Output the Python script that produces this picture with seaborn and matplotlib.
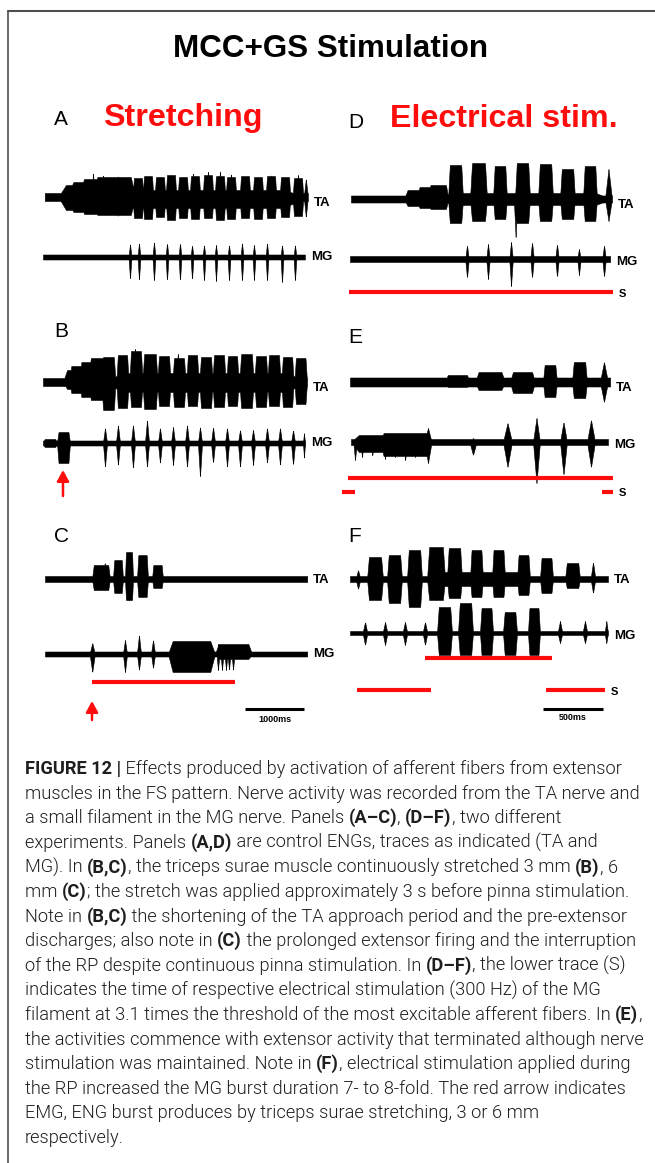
import numpy as np
import pandas as pd
import matplotlib
matplotlib.use("Agg")
import matplotlib.pyplot as plt
import seaborn as sns
from matplotlib.lines import Line2D
from matplotlib import font_manager
from matplotlib.font_manager import FontProperties

# ---------------------------------------------------------------- data
# Each burst: (onset ms, offset ms, upward amplitude, downward amplitude)
# Left column (A-C) uses a 1000 ms scale bar; right column (D-F) a 500 ms one.

# Panel A - control (stretching experiment)
A_TA_SPAN = (30, 4490)
A_TA = [(254, 4490, 7, 11), (260, 1560, 12, 13), (400, 1560, 15, 15), (600, 1560, 18, 17),
        (850, 1560, 20, 18),
        (833, 863, 27, 18), (1000, 1030, 23, 18), (1250, 1280, 22, 20),
        (1520, 1700, 19, 21), (1690, 1870, 21, 22), (1893, 2073, 20, 20), (2080, 2260, 22, 23),
        (2283, 2463, 20, 21), (2486, 2666, 21, 22), (2707, 2887, 22, 21), (2910, 3090, 21, 23),
        (3097, 3277, 20, 22), (3334, 3514, 21, 21), (3554, 3734, 20, 22), (3775, 3955, 21, 21),
        (4012, 4192, 20, 20), (4232, 4412, 19, 19), (4420, 4490, 18, 20),
        (2528, 2558, 25, 18), (2782, 2812, 27, 18), (2985, 3015, 29, 18), (3172, 3202, 24, 18),
        (3409, 3439, 24, 18), (3850, 3880, 23, 18), (4307, 4337, 22, 18)]
A_MG_SPAN = (0, 4440)
A_MG = [(1450, 1500, 13, 22), (1602, 1652, 14, 23), (1856, 1906, 15, 24), (2077, 2127, 14, 24),
        (2297, 2347, 14, 24), (2501, 2551, 12, 23), (2704, 2754, 12, 24), (2907, 2957, 12, 24),
        (3128, 3178, 12, 24), (3348, 3398, 14, 24), (3551, 3601, 12, 23), (3772, 3822, 14, 24),
        (4026, 4076, 12, 26), (4246, 4296, 12, 24)]

# Panel B - stretch 3 mm
B_TA_SPAN = (0, 4475)
B_TA = [(339, 1040, 12, 7), (450, 1040, 16, 11), (620, 1040, 20, 15), (780, 1040, 24, 18),
        (1017, 4475, 9, 10),
        (990, 1230, 25, 28), (1244, 1451, 27, 26), (1465, 1688, 31, 25), (1685, 1942, 28, 27),
        (1939, 2163, 26, 24), (2194, 2417, 24, 25), (2431, 2637, 27, 24), (2651, 2875, 25, 26),
        (2872, 3095, 27, 25), (3109, 3315, 26, 24), (3329, 3570, 28, 26), (3583, 3807, 26, 25),
        (3804, 4027, 27, 24), (4041, 4248, 25, 25), (4261, 4475, 24, 22),
        (1545, 1575, 33, 20), (2270, 2300, 30, 20)]
B_MG_SPAN = (0, 4441)
B_MG = [(0, 237, 4, 4), (237, 458, 11, 20),
        (1016, 1086, 15, 24), (1236, 1306, 18, 22), (1490, 1560, 18, 25), (1728, 1798, 23, 24),
        (1948, 2018, 15, 20), (2169, 2239, 16, 22), (2406, 2476, 18, 24), (2626, 2696, 16, 34),
        (2847, 2917, 16, 20), (3084, 3154, 15, 24), (3304, 3374, 13, 24), (3525, 3595, 13, 22),
        (3762, 3832, 15, 20), (3982, 4052, 15, 22), (4203, 4273, 13, 22), (4406, 4441, 10, 15)]

# Panel C - stretch 6 mm
C_TA_SPAN = (34, 4475)
C_TA = [(831, 1136, 14, 11), (1187, 1356, 19, 14), (1390, 1526, 27, 21),
        (1593, 1780, 24, 18), (1848, 2034, 14, 9), (1030, 1060, 17, 12), (1440, 1470, 29, 23)]
C_MG_SPAN = (34, 4475)
C_MG = [(790, 880, 11, 18), (1355, 1425, 14, 18), (1592, 1662, 19, 16), (1830, 1900, 14, 14),
        (2119, 2915, 13, 18), (2915, 3543, 10, 5),
        (2941, 2991, 10, 16), (3009, 3059, 10, 16), (3077, 3127, 10, 16), (3128, 3178, 10, 16),
        (3196, 3246, 10, 16)]
C_STIM = [(831, 3254)]

# Panel D - control (electrical stimulation experiment)
D_TA_SPAN = (8, 2183)
D_TA = [(450, 820, 9, 7), (550, 820, 12, 9), (650, 820, 14, 10), (808, 2183, 6, 6),
        (817, 942, 34, 24), (1000, 1142, 36, 22), (1192, 1308, 33, 20), (1375, 1500, 36, 24),
        (1567, 1692, 35, 22), (1750, 1875, 30, 20), (1942, 2058, 33, 22), (2125, 2183, 30, 22),
        (1365, 1395, 0, 38)]
D_MG_SPAN = (0, 2167)
D_MG = [(960, 990, 14, 19), (1135, 1165, 15, 20), (1327, 1357, 17, 27), (1502, 1532, 17, 19),
        (1710, 1740, 15, 18), (1893, 1923, 10, 16), (2102, 2132, 14, 18)]
D_STIM = [(-8, 2192)]

# Panel E
E_TA_SPAN = (0, 2167)
E_TA = [(790, 1000, 7, 5), (1042, 1292, 10, 8), (1333, 1542, 10, 11), (1608, 1725, 17, 15),
        (1850, 1975, 20, 16), (2083, 2150, 20, 20)]
E_MG_SPAN = (8, 2150)
E_MG = [(8, 667, 7, 10), (250, 667, 9, 14), (27, 57, 0, 18), (85, 115, 0, 15), (170, 200, 0, 14),
        (277, 307, 0, 17), (360, 390, 0, 16), (445, 475, 0, 18), (527, 557, 0, 15),
        (620, 680, 14, 21),
        (995, 1055, 4, 13), (1275, 1350, 19, 25), (1525, 1583, 24, 41), (1750, 1808, 20, 33),
        (1975, 2042, 22, 25)]
E_STIM = [(-17, 2192)]
E_S = [(-67, 42), (2100, 2192)]

# Panel F
F_TA_SPAN = (0, 2150)
F_TA = [(47, 87, 9, 10), (620, 1540, 7, 7),
        (142, 275, 22, 21), (308, 433, 24, 24), (475, 600, 29, 28), (642, 792, 32, 21),
        (808, 933, 31, 19), (1000, 1108, 29, 18), (1183, 1292, 29, 18), (1392, 1500, 24, 16),
        (1583, 1692, 21, 14), (1792, 1917, 16, 9), (2005, 2045, 17, 14)]
F_MG_SPAN = (0, 2150)
F_MG = [(105, 145, 11, 12), (272, 312, 11, 12), (438, 478, 11, 12), (605, 645, 11, 12),
        (725, 850, 26, 22), (900, 1025, 30, 22), (1083, 1192, 25, 22), (1275, 1392, 21, 22),
        (1483, 1583, 25, 22),
        (1730, 1770, 12, 10), (1938, 1978, 12, 10), (2122, 2150, 12, 10)]
F_STIM = [(625, 1683)]
F_S = [(58, 675), (1633, 2125)]

SCALE_LEFT = (3424, 4424)
SCALE_RIGHT = (1608, 2108)
ARROWS = [339, 831]

CAPTION = [
    [("FIGURE 12 |", True), (" Effects produced by activation of afferent fibers from extensor", False)],
    [("muscles in the FS pattern. Nerve activity was recorded from the TA nerve and", False)],
    [("a small filament in the MG nerve. Panels ", False), ("(A\u2013C)", True), (", ", False),
     ("(D\u2013F)", True), (", two different", False)],
    [("experiments. Panels ", False), ("(A,D)", True), (" are control ENGs, traces as indicated (TA and", False)],
    [("MG). In ", False), ("(B,C)", True), (", the triceps surae muscle continuously stretched 3 mm ", False),
     ("(B)", True), (", 6", False)],
    [("mm ", False), ("(C)", True), ("; the stretch was applied approximately 3 s before pinna stimulation.", False)],
    [("Note in ", False), ("(B,C)", True), (" the shortening of the TA approach period and the pre-extensor", False)],
    [("discharges; also note in ", False), ("(C)", True), (" the prolonged extensor firing and the interruption", False)],
    [("of the RP despite continuous pinna stimulation. In ", False), ("(D\u2013F)", True),
     (", the lower trace (S)", False)],
    [("indicates the time of respective electrical stimulation (300 Hz) of the MG", False)],
    [("filament at 3.1 times the threshold of the most excitable afferent fibers. In ", False), ("(E)", True),
     (",", False)],
    [("the activities commence with extensor activity that terminated although nerve", False)],
    [("stimulation was maintained. Note in ", False), ("(F)", True),
     (", electrical stimulation applied during", False)],
    [("the RP increased the MG burst duration 7- to 8-fold. The red arrow indicates", False)],
    [("EMG, ENG burst produces by triceps surae stretching, 3 or 6 mm", False)],
    [("respectively.", False)],
]

# ---------------------------------------------------------------- style
sns.set_theme(style="white")
plt.rcParams["font.family"] = ["Liberation Sans", "DejaVu Sans"]
plt.rcParams["text.color"] = "black"
RED = "#ff0d0d"
W, H = 655, 1163
fig = plt.figure(figsize=(W / 100, H / 100), dpi=100)
fig.patch.set_facecolor("white")


def fx(px):
    return px / W


def fy(py):
    return 1 - py / H


# frame
fig.add_artist(Line2D([fx(8), 1.0], [fy(11), fy(11)], color="#505050", lw=1.5, transform=fig.transFigure))
fig.add_artist(Line2D([fx(8), fx(8)], [fy(11), 0.0], color="#505050", lw=1.2, transform=fig.transFigure))

# headings
fig.text(fx(331), fy(57), "MCC+GS Stimulation", ha="center", va="baseline", fontsize=22.6, weight="bold")
fig.text(fx(103), fy(126), "Stretching", ha="left", va="baseline", fontsize=23.2, weight="bold", color=RED)
fig.text(fx(390), fy(127), "Electrical stim.", ha="left", va="baseline", fontsize=23.2, weight="bold",
         color=RED)
for letter, x, y in [("A", 54, 125), ("B", 54, 337), ("C", 54, 542),
                     ("D", 348, 128), ("E", 348, 343), ("F", 348, 542)]:
    fig.text(fx(x), fy(y), letter, ha="left", va="baseline", fontsize=15)

# column axes (y in layout units that run downwards)
axL = fig.add_axes([fx(30), fy(740), 310 / W, 600 / H])
axR = fig.add_axes([fx(335), fy(740), 315 / W, 600 / H])
axL.set_xlim(-220, 5034)
axR.set_xlim(-125, 2500)


def envelope(t, bursts, base):
    up = np.full(t.shape, float(base))
    dn = up.copy()
    for on, off, a_up, a_dn in bursts:
        w = off - on
        if w <= 90:
            s = np.clip(1 - np.abs(t - (on + off) / 2) / (w / 2), 0, 1)
        else:
            e = 0.1 * w if w > 600 else min(max(0.12 * w, 12), 30)
            s = np.clip(np.minimum(t - on, off - t) / e, 0, 1)
        up = np.maximum(up, a_up * s)
        dn = np.maximum(dn, a_dn * s)
    return up, dn


def draw_trace(ax, span, bursts, y0, base, label, dy, step):
    t = np.arange(span[0], span[1] + step, step)
    up, dn = envelope(t, bursts, base)
    ax.fill_between(t, y0 - up, y0 + dn, color="black", lw=0.4, edgecolor="black")
    ax.annotate(label, xy=(span[1], y0 + dy), xytext=(4.5, 0), textcoords="offset points",
                ha="left", va="center", fontsize=9.5, weight="bold")


traces = [
    (axL, A_TA_SPAN, A_TA, 197, 4, "TA", 6, 4), (axL, A_MG_SPAN, A_MG, 257, 2.5, "MG", 0, 4),
    (axL, B_TA_SPAN, B_TA, 382, 4, "TA", 6, 4), (axL, B_MG_SPAN, B_MG, 443, 2.5, "MG", 0, 4),
    (axL, C_TA_SPAN, C_TA, 579, 3, "TA", 1, 4), (axL, C_MG_SPAN, C_MG, 654, 2.5, "MG", 0, 4),
    (axR, D_TA_SPAN, D_TA, 199, 3.5, "TA", 6, 2), (axR, D_MG_SPAN, D_MG, 259, 3, "MG", 3, 2),
    (axR, E_TA_SPAN, E_TA, 382, 4.5, "TA", 6, 2), (axR, E_MG_SPAN, E_MG, 442, 3, "MG", 3, 2),
    (axR, F_TA_SPAN, F_TA, 579, 3, "TA", 1, 2), (axR, F_MG_SPAN, F_MG, 633, 2, "MG", 3, 2),
]
for ax, span, bursts, y0, base, label, dy, step in traces:
    draw_trace(ax, span, bursts, y0, base, label, dy, step)


def bar(ax, seg, y, color, lw):
    df = pd.DataFrame({"t": [seg[0], seg[1]], "y": [y, y]})
    sns.lineplot(data=df, x="t", y="y", ax=ax, color=color, lw=lw, solid_capstyle="butt")


for seg in C_STIM:
    bar(axL, seg, 682, RED, 3)
for seg in D_STIM:
    bar(axR, seg, 292, RED, 3)
for seg in E_STIM:
    bar(axR, seg, 478, RED, 3)
for seg in E_S:
    bar(axR, seg, 492, RED, 3)
for seg in F_STIM:
    bar(axR, seg, 658, RED, 3)
for seg in F_S:
    bar(axR, seg, 690, RED, 3)

for y, seg in [(294, D_STIM[0]), (493, E_S[-1]), (692, F_S[-1])]:
    axR.annotate("S", xy=(seg[1], y), xytext=(4, 0), textcoords="offset points",
                 ha="left", va="center", fontsize=8, weight="bold")

# scale bars
bar(axL, SCALE_LEFT, 709, "black", 2.2)
bar(axR, SCALE_RIGHT, 709, "black", 2.2)
axL.text(np.mean(SCALE_LEFT), 719, "1000ms", ha="center", va="center", fontsize=6.5, weight="bold")
axR.text(np.mean(SCALE_RIGHT), 718, "500ms", ha="center", va="center", fontsize=6.5, weight="bold")

# red arrows
for t, (tail, head) in zip(ARROWS, [(496, 470), (720, 701)]):
    axL.annotate("", xy=(t, head), xytext=(t, tail),
                 arrowprops=dict(arrowstyle="-|>,head_length=0.55,head_width=0.3", color=RED,
                                 lw=1.8, shrinkA=0, shrinkB=0))

for ax in (axL, axR):
    ax.set_ylim(740, 140)
    ax.set_xlabel("")
    ax.set_ylabel("")
    ax.axis("off")
    ax.patch.set_alpha(0)

# ---------------------------------------------------------------- caption
def weight_num(w):
    if isinstance(w, str):
        return font_manager.weight_dict.get(w, 400)
    return int(w)


entries = font_manager.fontManager.ttflist
cap_family, cap_weight = "Liberation Sans", "normal"
for fam in ["Roboto", "Open Sans", "Lato", "Inter", "Noto Sans"]:
    ws = [weight_num(f.weight) for f in entries if f.name == fam]
    if 300 in ws:
        cap_family, cap_weight = fam, 300
        break
else:
    if any(f.name == "Roboto" for f in entries):
        cap_family = "Roboto"

renderer = fig.canvas.get_renderer()


def adv(s, prop):
    w1 = renderer.get_text_width_height_descent("|" + s + "|", prop, ismath=False)[0]
    w0 = renderer.get_text_width_height_descent("||", prop, ismath=False)[0]
    return w1 - w0


target = 612.0
size = 12.0
for _ in range(3):
    p = FontProperties(family=cap_family, size=size, weight=cap_weight)
    size *= target / adv(CAPTION[1][0][0], p)

CAP_COLOR = "#1e1e1e"
y_first, y_step = 774, 24.6
for i, runs in enumerate(CAPTION):
    x = 25.0
    y = y_first + i * y_step
    for s, bold in runs:
        p = FontProperties(family=cap_family, size=size, weight="bold" if bold else cap_weight)
        fig.text(fx(x), fy(y), s, fontproperties=p, ha="left", va="baseline", color=CAP_COLOR)
        x += adv(s, p)

fig.savefig("out.png", dpi=100, facecolor="white")
